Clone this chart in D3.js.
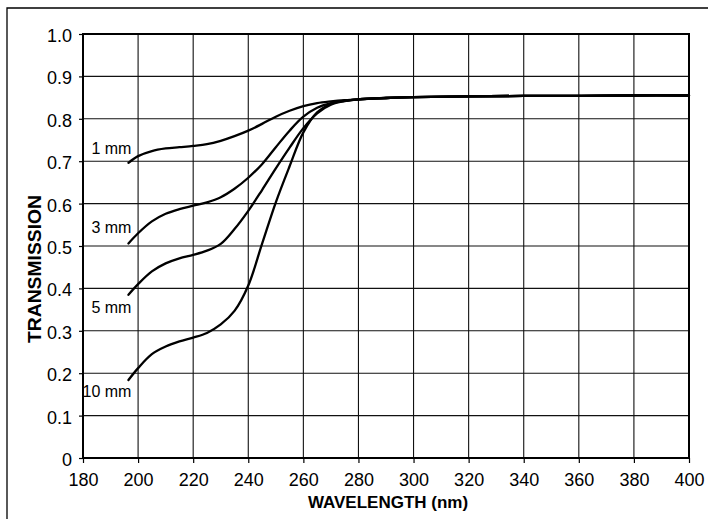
<!DOCTYPE html>
<html>
<head>
<meta charset="utf-8">
<script src="https://cdn.jsdelivr.net/npm/d3@7"></script>
<style>
  body { margin: 0; background: #fff; }
  svg { display: block; font-family: "Liberation Sans", Arial, Helvetica, sans-serif; }
</style>
</head>
<body>
<div id="chart"></div>
<script>
// wavelength samples (nm) shared by every curve
const wavelengths = [196.5, 200, 205, 210, 215, 220, 225, 230, 235, 240, 245, 250, 255, 260, 265, 270, 275, 280, 290, 300, 320, 340, 360, 380, 400];

// transmission
const t1mm  = [0.696, 0.712, 0.724, 0.730, 0.733, 0.736, 0.740, 0.748, 0.759, 0.772, 0.788, 0.805, 0.819, 0.830, 0.837, 0.841, 0.844, 0.846, 0.849, 0.851, 0.853, 0.854, 0.854, 0.855, 0.855];
const t3mm  = [0.506, 0.530, 0.558, 0.576, 0.587, 0.595, 0.603, 0.615, 0.635, 0.661, 0.693, 0.733, 0.772, 0.805, 0.826, 0.837, 0.843, 0.846, 0.849, 0.851, 0.853, 0.854, 0.854, 0.855, 0.855];
const t5mm  = [0.385, 0.410, 0.440, 0.459, 0.471, 0.479, 0.489, 0.505, 0.540, 0.583, 0.632, 0.683, 0.732, 0.778, 0.813, 0.833, 0.842, 0.846, 0.849, 0.851, 0.853, 0.854, 0.854, 0.855, 0.855];
const t10mm = [0.184, 0.212, 0.245, 0.263, 0.275, 0.284, 0.295, 0.315, 0.347, 0.407, 0.505, 0.603, 0.688, 0.768, 0.815, 0.835, 0.842, 0.846, 0.849, 0.851, 0.853, 0.854, 0.854, 0.855, 0.855];

const seriesNames = ["1 mm", "3 mm", "5 mm", "10 mm"];
const seriesValues = [t1mm, t3mm, t5mm, t10mm];

const xTicks = [180, 200, 220, 240, 260, 280, 300, 320, 340, 360, 380, 400];
const yTicks = [0, 0.1, 0.2, 0.3, 0.4, 0.5, 0.6, 0.7, 0.8, 0.9, 1.0];

const width = 708;
const height = 519;
const margin = { top: 34, right: 19, bottom: 61, left: 83 };

const svg = d3.select("#chart").append("svg")
    .attr("width", width)
    .attr("height", height);

// outer frame of the figure (runs off the right edge)
svg.append("path")
    .attr("d", `M7,${height} V8 H${width + 2}`)
    .attr("fill", "none")
    .attr("stroke", "#000")
    .attr("stroke-width", 1.3);

const x = d3.scaleLinear()
    .domain([180, 400])
    .range([margin.left, width - margin.right]);
const y = d3.scaleLinear()
    .domain([0, 1])
    .range([height - margin.bottom, margin.top]);

// grid
svg.append("g")
    .selectAll("line")
    .data(xTicks)
    .enter()
    .append("line")
    .attr("x1", d => x(d)).attr("x2", d => x(d))
    .attr("y1", y(0)).attr("y2", y(1))
    .attr("stroke", "#111")
    .attr("stroke-width", 1.1);
svg.append("g")
    .selectAll("line")
    .data(yTicks)
    .enter()
    .append("line")
    .attr("x1", x(180)).attr("x2", x(400))
    .attr("y1", d => y(d)).attr("y2", d => y(d))
    .attr("stroke", "#111")
    .attr("stroke-width", 1.1);

// plot border
svg.append("rect")
    .attr("x", x(180))
    .attr("y", y(1))
    .attr("width", x(400) - x(180))
    .attr("height", y(0) - y(1))
    .attr("fill", "none")
    .attr("stroke", "#000")
    .attr("stroke-width", 2);

// axes
const xAxis = svg.append("g")
    .attr("transform", `translate(0,${y(0)})`)
    .call(d3.axisBottom(x).tickValues(xTicks).tickSize(5).tickPadding(10).tickSizeOuter(0));
const yAxis = svg.append("g")
    .attr("transform", `translate(${x(180)},0)`)
    .call(d3.axisLeft(y).tickValues(yTicks).tickSize(4).tickPadding(7).tickSizeOuter(0)
        .tickFormat(d => d === 0 ? "0" : d3.format(".1f")(d)));
[xAxis, yAxis].forEach(a => {
    a.select(".domain").remove();
    a.selectAll("line").attr("stroke", "#000").attr("stroke-width", 1.2);
    a.selectAll("text")
        .attr("fill", "#000")
        .style("font-size", "18px")
        .style("font-family", "\"Liberation Sans\", Arial, sans-serif");
});
yAxis.selectAll("text").attr("dy", "0.42em");

// curves
const line = d3.line()
    .x((d, i) => x(wavelengths[i]))
    .y(d => y(d))
    .curve(d3.curveCatmullRom.alpha(0.5));

svg.append("g")
    .selectAll("path")
    .data(seriesValues)
    .enter()
    .append("path")
    .attr("d", line)
    .attr("fill", "none")
    .attr("stroke", "#000")
    .attr("stroke-width", 2.3)
    .attr("stroke-linecap", "round");

// curve labels next to the start of each curve
const labelDy = [-9, -10, 18, 17];
svg.append("g")
    .selectAll("text")
    .data(seriesNames)
    .enter()
    .append("text")
    .attr("x", x(wavelengths[0]) + 3)
    .attr("y", (d, i) => y(seriesValues[i][0]) + labelDy[i])
    .attr("text-anchor", "end")
    .style("font-size", "16px")
    .text(d => d);

// axis titles
svg.append("text")
    .attr("x", (x(180) + x(400)) / 2 + 2)
    .attr("y", 508)
    .attr("text-anchor", "middle")
    .style("font-size", "17px")
    .style("font-weight", "bold")
    .text("WAVELENGTH (nm)");

svg.append("text")
    .attr("transform", `translate(41,${(y(0) + y(1)) / 2 + 23}) rotate(-90)`)
    .attr("text-anchor", "middle")
    .attr("textLength", 148)
    .attr("lengthAdjust", "spacingAndGlyphs")
    .style("font-size", "18px")
    .style("font-weight", "bold")
    .text("TRANSMISSION");
</script>
</body>
</html>
